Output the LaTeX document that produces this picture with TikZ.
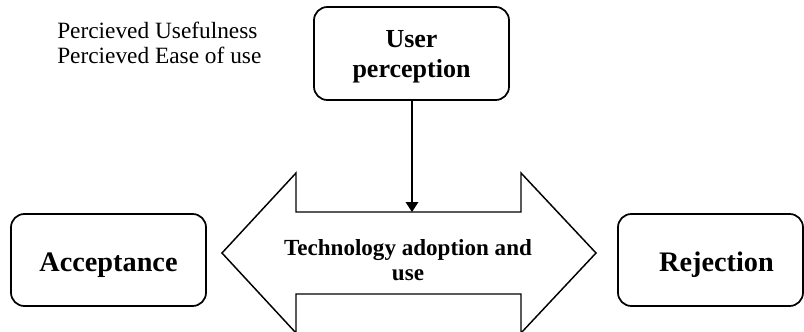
\documentclass[tikz,border=0pt]{standalone}
\usepackage{fontspec}
\setmainfont{Liberation Serif}
\usetikzlibrary{arrows.meta}
\begin{document}
\begin{tikzpicture}[x=0.75pt,y=-0.75pt,
  box/.style={draw, line width=1.3pt, rounded corners=10pt, align=center, inner sep=0pt},
  bigtext/.style={font=\fontsize{21.2}{25}\selectfont\bfseries, text height=16.5pt, text depth=0pt},
  usertext/.style={font=\fontsize{19.5}{22.5}\selectfont\bfseries},
  techtext/.style={font=\fontsize{17.3}{18.75}\selectfont\bfseries, align=center, inner sep=0pt},
  plaintext/.style={font=\fontsize{17.5}{18.75}\selectfont, inner sep=0pt, anchor=base west},
  bigarrow/.style={draw, line width=1.1pt, line join=miter},
  conn/.style={line width=1pt, -{Triangle[length=7.5pt,width=9.5pt]}}]
\useasboundingbox (0,0) rectangle (804,332);
% labels
\node[plaintext] (pu) at (57,38) {Percieved Usefulness};
\node[plaintext] (pe) at (57,63) {Percieved Ease of use};
% user perception box
\node[box, usertext, minimum width=146.25pt, minimum height=69.75pt] (user) at (411.5,53.5) {\rule{0pt}{17pt}User\\perception};
% double arrow
\draw[bigarrow] (222,253) -- (296,173) -- (296,212) -- (521,212) -- (521,173) -- (596,253)
  -- (521,333) -- (521,294) -- (296,294) -- (296,333) -- cycle;
\node[techtext] (tech) at (408,260) {Technology adoption and\\use};
\coordinate (btop) at (412,212);
% side boxes
\node[box, bigtext, minimum width=146.25pt, minimum height=69pt] (acc) at (108.5,260) {Acceptance};
\node[box, bigtext, minimum width=138.75pt, minimum height=69pt] (rej) at (710.5,260) {\hspace*{9pt}Rejection};
% connector
\draw[conn] (user.south -| btop) -- (btop);
\end{tikzpicture}
\end{document}
